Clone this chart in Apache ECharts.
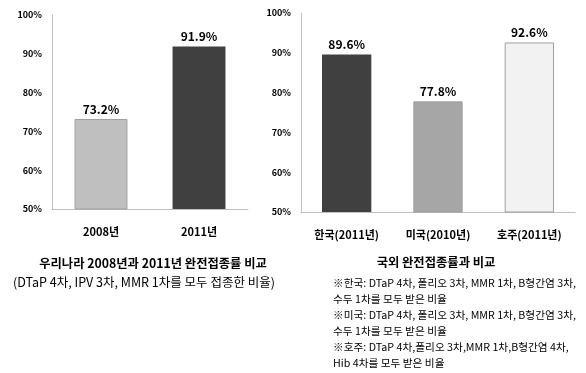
<!DOCTYPE html>
<html><head><meta charset="utf-8">
<script src="https://cdn.jsdelivr.net/npm/echarts@6/dist/echarts.min.js"></script>
<style>html,body{margin:0;padding:0;background:#fff}#c{width:586px;height:373px}</style>
</head><body><div id="c"></div>
<script>
const leftCategories = ['2008년', '2011년'];
const leftValues = [73.2, 91.9];
const rightCategories = ['한국(2011년)', '미국(2010년)', '호주(2011년)'];
const rightValues = [89.6, 77.8, 92.6];
const leftTitle = '우리나라 2008년과 2011년 완전접종률 비교';
const leftNote = '(DTaP 4차, IPV 3차, MMR 1차를 모두 접종한 비율)';
const rightTitle = '국외 완전접종률과 비교';
const rightNotes = [
  '※한국: DTaP 4차, 폴리오 3차, MMR 1차, B형간염 3차,',
  '수두 1차를 모두 받은 비율',
  '※미국: DTaP 4차, 폴리오 3차, MMR 1차, B형간염 3차,',
  '수두 1차를 모두 받은 비율',
  '※호주: DTaP 4차,폴리오 3차,MMR 1차,B형간염 4차,',
  'Hib 4차를 모두 받은 비율'
];
const leftColors = ['#bfbfbf', '#404040'];
const rightColors = ['#404040', '#a6a6a6', '#f2f2f2'];

const FONT = '"Noto Sans CJK KR", "Noto Sans", sans-serif';
const chart = echarts.init(document.getElementById('c'));

function yAxis(idx) {
  return {
    gridIndex: idx, type: 'value', min: 50, max: 100, interval: 10,
    axisLine: {show: true, lineStyle: {color: '#bfbfbf'}},
    axisTick: {show: false}, splitLine: {show: false},
    axisLabel: {formatter: '{value}%', color: '#000', fontWeight: 'bold', fontSize: 9, fontFamily: FONT, margin: 10}
  };
}
function xAxis(idx, cats) {
  return {
    gridIndex: idx, type: 'category', data: cats,
    axisLine: {lineStyle: {color: '#bfbfbf'}}, axisTick: {show: false},
    axisLabel: {color: '#000', fontWeight: 'bold', fontSize: 11, fontFamily: FONT, margin: 17}
  };
}
function barSeries(idx, vals, colors) {
  return {
    type: 'bar', xAxisIndex: idx, yAxisIndex: idx, barWidth: '54%',
    data: vals.map((v, i) => ({value: v, itemStyle: {color: colors[i], borderColor: '#a0a0a0', borderWidth: colors[i] === '#404040' ? 0 : 1}})),
    label: {show: true, position: 'top', distance: 4, formatter: p => p.value.toFixed(1) + '%', color: '#000', fontWeight: 'bold', fontSize: 12, fontFamily: FONT},
    silent: true, animation: false
  };
}

const graphics = [
  {type: 'text', x: 153, y: 263, style: {text: leftTitle, font: 'bold 12.3px ' + FONT, fill: '#000', align: 'center', verticalAlign: 'middle'}},
  {type: 'text', x: 144, y: 282, style: {text: leftNote, font: '12.5px ' + FONT, fill: '#000', align: 'center', verticalAlign: 'middle'}},
  {type: 'text', x: 436, y: 262, style: {text: rightTitle, font: 'bold 12.3px ' + FONT, fill: '#000', align: 'center', verticalAlign: 'middle'}}
];
rightNotes.forEach((t, i) => graphics.push({type: 'text', x: 333, y: 283 + i * 16, style: {text: t, font: '10.7px ' + FONT, fill: '#000', align: 'left', verticalAlign: 'middle'}}));

chart.setOption({
  animation: false,
  grid: [
    {left: 52, top: 15, width: 196, height: 194},
    {left: 301, top: 13, width: 274, height: 199}
  ],
  xAxis: [xAxis(0, leftCategories), xAxis(1, rightCategories)],
  yAxis: [yAxis(0), yAxis(1)],
  series: [barSeries(0, leftValues, leftColors), barSeries(1, rightValues, rightColors)],
  graphic: graphics
});
</script></body></html>
